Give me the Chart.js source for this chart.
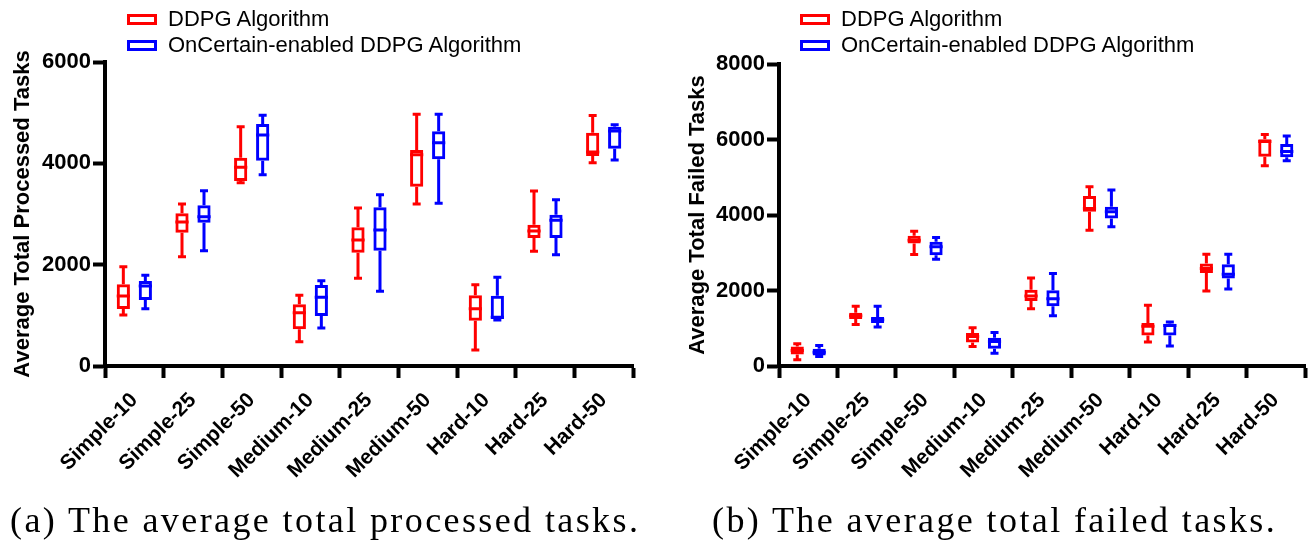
<!DOCTYPE html>
<html>
<head>
<meta charset="utf-8">
<script src="https://cdn.jsdelivr.net/npm/chart.js@4.4.1/dist/chart.umd.min.js"></script>
<style>
  html, body { margin: 0; padding: 0; background: #fff; }
  body { width: 1308px; height: 551px; position: relative; overflow: hidden; font-family: "Liberation Sans", Arial, sans-serif; }
  .box { position: absolute; top: 0; height: 500px; }
  .legend { position: absolute; font-size: 22px; color: #000; line-height: 26px; }
  .legend .row { position: relative; height: 26px; white-space: nowrap; }
  .legend .sw { position: absolute; left: 0; top: 8px; width: 24px; height: 5px; border: 3px solid; }
  .legend .tx { position: absolute; left: 41px; top: 0; }
  .cap { position: absolute; top: 499px; font-family: "Liberation Serif", "Times New Roman", serif; font-size: 36px; letter-spacing: 2.4px; color: #000; white-space: nowrap; }
</style>
</head>
<body>
<div class="box" id="bl" style="left:0;width:650px;"><canvas id="c1"></canvas></div>
<div class="box" id="br" style="left:660px;width:648px;"><canvas id="c2"></canvas></div>

<div class="legend" style="left:127px;top:6px;">
  <div class="row"><span class="sw" style="border-color:#ff0000"></span><span class="tx">DDPG Algorithm</span></div>
  <div class="row"><span class="sw" style="border-color:#0000ff"></span><span class="tx">OnCertain-enabled DDPG Algorithm</span></div>
</div>
<div class="legend" style="left:800px;top:6px;">
  <div class="row"><span class="sw" style="border-color:#ff0000"></span><span class="tx">DDPG Algorithm</span></div>
  <div class="row"><span class="sw" style="border-color:#0000ff"></span><span class="tx">OnCertain-enabled DDPG Algorithm</span></div>
</div>

<div class="cap" id="capA" style="left:10px;">(a) The average total processed tasks.</div>
<div class="cap" id="capB" style="left:712px;">(b) The average total failed tasks.</div>

<script>
// ---------- data ----------
const categories = ["Simple-10","Simple-25","Simple-50","Medium-10","Medium-25","Medium-50","Hard-10","Hard-25","Hard-50"];
const seriesNames = ["DDPG Algorithm", "OnCertain-enabled DDPG Algorithm"];

// each entry: [min, q1, median, q3, max]
const processedDDPG = [
  [1007,1125,1382,1613,1960],
  [2158,2632,2842,3013,3198],
  [3619,3652,3922,4112,4724],
  [480,724,1053,1217,1395],
  [1731,2237,2487,2737,3119],
  [3198,3540,4171,4263,4968],
  [316,894,1131,1395,1605],
  [2264,2527,2665,2790,3454],
  [4013,4145,4224,4606,4942]
];
const processedOnCertain = [
  [1131,1303,1579,1678,1790],
  [2277,2829,2947,3171,3461],
  [3777,4053,4560,4777,4948],
  [750,987,1355,1599,1684],
  [1474,2277,2684,3132,3382],
  [3211,4079,4408,4632,4968],
  [910,930,960,1388,1750],
  [2198,2527,2876,2987,3283],
  [4066,4290,4639,4724,4763]
];
const failedDDPG = [
  [164,305,412,518,590],
  [1102,1244,1333,1413,1580],
  [2952,3244,3333,3448,3572],
  [518,624,783,872,1014],
  [1519,1722,1855,2023,2333],
  [3599,4086,4175,4502,4749],
  [633,810,1050,1138,1607],
  [1988,2466,2580,2713,2961],
  [5307,5546,5945,6007,6130]
];
const failedOnCertain = [
  [252,279,367,456,544],
  [1032,1138,1227,1297,1580],
  [2829,2935,3156,3289,3404],
  [341,456,651,748,890],
  [1333,1580,1784,2005,2448],
  [3687,3909,4086,4219,4661],
  [527,810,1076,1120,1165],
  [2041,2315,2430,2695,2961],
  [5440,5529,5679,5883,6096]
];
const processedTicks = [0, 2000, 4000, 6000];
const failedTicks = [0, 2000, 4000, 6000, 8000];
const colors = ["#ff0000", "#0000ff"];

// ---------- box plot plugin (whiskers + medians via the chart scales) ----------
const boxPlugin = {
  id: 'boxWhiskers',
  afterDatasetsDraw(chart) {
    const ctx = chart.ctx;
    const y = chart.scales.y;
    chart.data.datasets.forEach((ds, di) => {
      const meta = chart.getDatasetMeta(di);
      meta.data.forEach((bar, i) => {
        const s = ds.stats[i];
        const x = bar.x;
        const w = bar.width;
        const pMin = y.getPixelForValue(s[0]);
        const pQ1 = y.getPixelForValue(s[1]);
        const pMed = y.getPixelForValue(s[2]);
        const pQ3 = y.getPixelForValue(s[3]);
        const pMax = y.getPixelForValue(s[4]);
        ctx.save();
        ctx.strokeStyle = ds.borderColor;
        ctx.lineWidth = 3;
        ctx.lineCap = 'butt';
        ctx.beginPath();
        ctx.moveTo(x, pQ3); ctx.lineTo(x, pMax);
        ctx.moveTo(x, pQ1); ctx.lineTo(x, pMin);
        const cap = 4;
        ctx.moveTo(x - cap, pMax); ctx.lineTo(x + cap, pMax);
        ctx.moveTo(x - cap, pMin); ctx.lineTo(x + cap, pMin);
        ctx.moveTo(x - w / 2, pMed); ctx.lineTo(x + w / 2, pMed);
        ctx.stroke();
        ctx.restore();
      });
    });
  }
};

function makeChart(canvasId, redStats, blueStats, tickVals, yTitle, pad, yWidth, xHeight, titlePad) {
  const mk = (stats, idx) => ({
    label: seriesNames[idx],
    data: stats.map(s => [s[1], s[3]]),
    stats: stats,
    borderColor: colors[idx],
    backgroundColor: 'rgba(255,255,255,0)',
    borderWidth: 3,
    borderSkipped: false,
    categoryPercentage: 0.75,
    barPercentage: 0.6
  });
  const font = '"Liberation Sans", Arial, sans-serif';
  return new Chart(document.getElementById(canvasId), {
    type: 'bar',
    data: { labels: categories, datasets: [mk(redStats, 0), mk(blueStats, 1)] },
    options: {
      responsive: true,
      maintainAspectRatio: false,
      animation: false,
      layout: { padding: pad },
      plugins: { legend: { display: false }, tooltip: { enabled: false } },
      scales: {
        x: {
          offset: true,
          border: { display: true, color: '#000', width: 4 },
          grid: { drawOnChartArea: false, drawTicks: true, tickLength: 12, tickWidth: 4, tickColor: '#000', color: '#000' },
          ticks: { color: '#000', font: { family: font, size: 21, weight: 'bold' }, maxRotation: 45, minRotation: 45, autoSkip: false, padding: 10 },
          afterFit(scale) { scale.height = xHeight; }
        },
        y: {
          min: tickVals[0], max: tickVals[tickVals.length - 1],
          border: { display: true, color: '#000', width: 4 },
          grid: { drawOnChartArea: false, drawTicks: true, tickLength: 12, tickWidth: 4, tickColor: '#000', color: '#000' },
          afterBuildTicks(scale) { scale.ticks = tickVals.map(v => ({ value: v })); },
          ticks: { color: '#000', font: { family: font, size: 22, weight: 'bold' }, padding: 2, callback: v => String(v) },
          title: { display: true, text: yTitle, color: '#000', font: { family: font, size: 22, weight: 'bold' }, padding: { top: titlePad, bottom: 0 } },
          afterFit(scale) { scale.width = yWidth; }
        }
      }
    },
    plugins: [boxPlugin]
  });
}

makeChart('c1', processedDDPG, processedOnCertain, processedTicks,
  'Average Total Processed Tasks', { top: 62, right: 17, left: 0, bottom: 0 }, 105, 134, 10);
makeChart('c2', failedDDPG, failedOnCertain, failedTicks,
  'Average Total Failed Tasks', { top: 64, right: 3, left: 0, bottom: 0 }, 119, 134, 25);
</script>
</body>
</html>
